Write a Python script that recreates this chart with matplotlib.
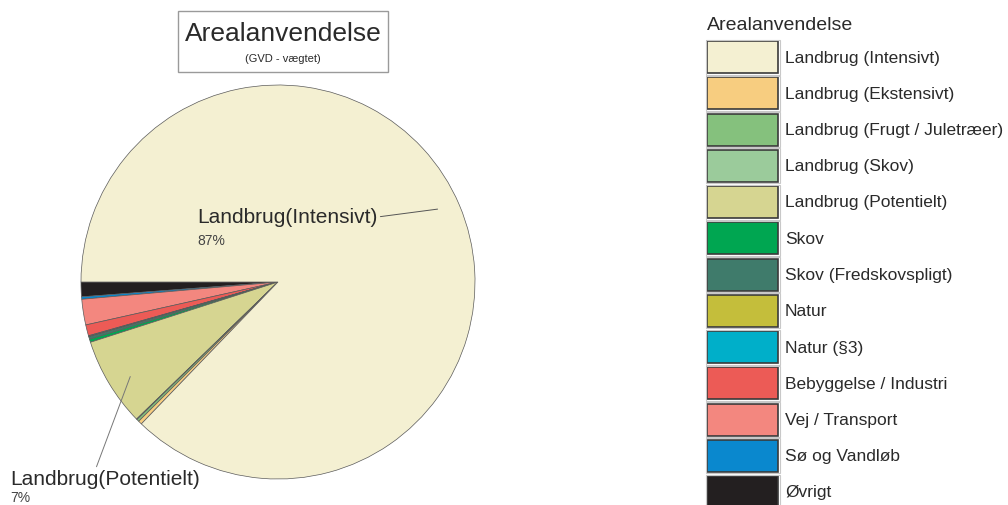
import matplotlib
matplotlib.use("Agg")
import matplotlib.pyplot as plt
from matplotlib.patches import Rectangle

plt.rcParams['font.family'] = ['Liberation Sans', 'DejaVu Sans']

# Land-use categories (legend order) with shares in percent
categories = [
    "Landbrug (Intensivt)",
    "Landbrug (Ekstensivt)",
    "Landbrug (Frugt / Juletræer)",
    "Landbrug (Skov)",
    "Landbrug (Potentielt)",
    "Skov",
    "Skov (Fredskovspligt)",
    "Natur",
    "Natur (§3)",
    "Bebyggelse / Industri",
    "Vej / Transport",
    "Sø og Vandløb",
    "Øvrigt",
]
shares = [87.2, 0.3, 0.2, 0.05, 7.3, 0.25, 0.2, 0.05, 0.05, 0.9, 2.1, 0.2, 1.2]
colors = [
    "#F4F0D2", "#F7CD80", "#85C17D", "#9BCB9B", "#D6D591", "#00A651",
    "#3F7B6B", "#C4BE3B", "#00AFC9", "#EC5B56", "#F3877F", "#0A88CE", "#231F20",
]

W, H = 1008, 506
fig = plt.figure(figsize=(W / 100, H / 100), dpi=100)
fig.patch.set_facecolor("white")

# Pie axes: centre (278, 283) px, radius 197 px
cx, cy, r = 278, 283, 197
ax = fig.add_axes([(cx - r) / W, (H - cy - r) / H, 2 * r / W, 2 * r / H])
ax.axis("off")

# Drawn counter-clockwise from the left, last category first
order = list(range(len(categories)))[::-1]
wedges, _ = ax.pie([shares[i] for i in order], colors=[colors[i] for i in order],
                   startangle=180, counterclock=True, radius=1,
                   wedgeprops=dict(edgecolor="#5a5a5a", linewidth=0.5))
ax.set_xlim(-1, 1)
ax.set_ylim(-1, 1)
ax.set_aspect("equal")

txt_col = "#2a2a2a"
# Slice labels with leader lines
ax.annotate("Landbrug(Intensivt)", xy=(0.81, 0.37), xytext=(-0.41, 0.33),
            fontsize=15, color=txt_col, ha="left", va="center",
            arrowprops=dict(arrowstyle="-", color="#555555", lw=0.7,
                            relpos=(1, 0.5), shrinkA=0, shrinkB=0))
ax.text(-0.41, 0.215, "87%", fontsize=10, color="#444444", ha="left", va="center")

ax.annotate("Landbrug(Potentielt)", xy=(-0.75, -0.48), xytext=(-1.36, -1.0),
            fontsize=15, color=txt_col, ha="left", va="center",
            annotation_clip=False,
            arrowprops=dict(arrowstyle="-", color="#777777", lw=0.7,
                            relpos=(0.45, 1), shrinkA=0, shrinkB=0))
ax.text(-1.36, -1.09, "7%", fontsize=10, color="#444444", ha="left", va="center")

# Title box
fig.patches.append(Rectangle((178 / W, 1 - 73 / H), 210 / W, 61 / H,
                             transform=fig.transFigure, facecolor="white",
                             edgecolor="#9a9a9a", linewidth=1.0))
fig.text(283 / W, 1 - 34 / H, "Arealanvendelse", fontsize=19, color=txt_col,
         ha="center", va="center")
fig.text(283 / W, 1 - 59 / H, "(GVD - vægtet)", fontsize=8, color=txt_col,
         ha="center", va="center")

# Legend drawn in a pixel-space overlay
lax = fig.add_axes([0, 0, 1, 1])
lax.set_xlim(0, W)
lax.set_ylim(H, 0)
lax.axis("off")
lax.text(707, 25, "Arealanvendelse", fontsize=14, color=txt_col, ha="left", va="center")
row0, step = 58, 36.25
for k, (name, col) in enumerate(zip(categories, colors)):
    yc = row0 + k * step
    lax.add_patch(Rectangle((707, yc - 16), 71, 32, facecolor=col,
                            edgecolor="#3a3a3a", linewidth=1.2))
    lax.add_patch(Rectangle((705.5, yc - 17.5), 74, 35, facecolor="none",
                            edgecolor="#c8c8c8", linewidth=0.8))
    lax.text(785, yc, name, fontsize=12.5, color=txt_col, ha="left", va="center")

fig.savefig("out.png", dpi=100)
